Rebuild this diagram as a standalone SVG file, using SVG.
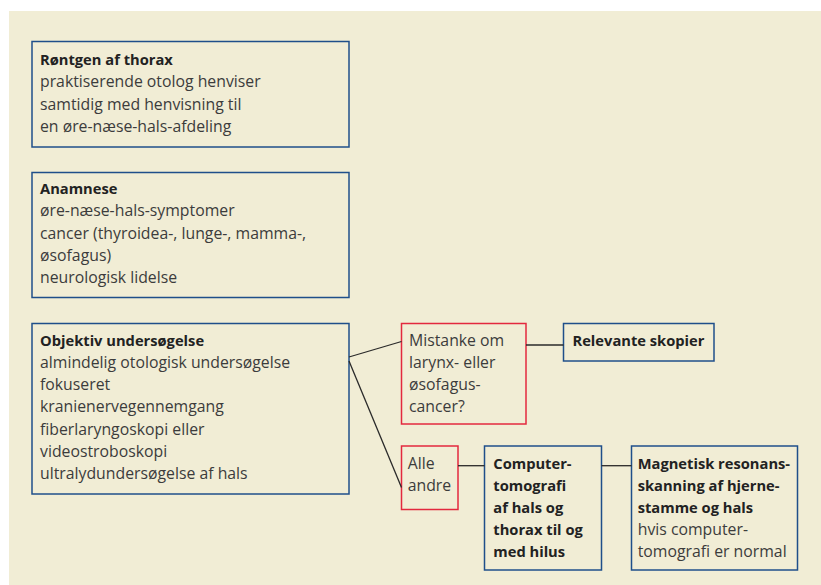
<svg xmlns="http://www.w3.org/2000/svg" width="821" height="585" viewBox="0 0 821 585">
<style>
.bg{fill:#f1edd5}
.nb{fill:none;stroke:#1f4f8a;stroke-width:1.5}
.nr{fill:none;stroke:#e3283e;stroke-width:1.5}
text{font-family:"Open Sans","DejaVu Sans",sans-serif;font-size:15.8px;fill:#3c3c3c}
.b{font-weight:bold;fill:#222;font-size:14.7px}
.c{stroke:#2a2a2a;stroke-width:1.3;fill:none}
</style>
<rect x="0" y="0" width="821" height="585" fill="#ffffff"/>
<rect class="bg" x="9" y="11" width="812" height="574"/>
<g id="n1">
<rect class="nb" x="32" y="41.5" width="317" height="105.5"/>
<text x="40" y="65"><tspan class="b">Røntgen af thorax</tspan><tspan x="40" dy="22.3">praktiserende otolog henviser</tspan><tspan x="40" dy="22.3">samtidig med henvisning til</tspan><tspan x="40" dy="22.3">en øre-næse-hals-afdeling</tspan></text>
</g>
<g id="n2">
<rect class="nb" x="32" y="172.5" width="317" height="125"/>
<text x="40" y="194"><tspan class="b">Anamnese</tspan><tspan x="40" dy="22.3">øre-næse-hals-symptomer</tspan><tspan x="40" dy="22.3">cancer (thyroidea-, lunge-, mamma-,</tspan><tspan x="40" dy="22.3">øsofagus)</tspan><tspan x="40" dy="22.3">neurologisk lidelse</tspan></text>
</g>
<g id="n3">
<rect class="nb" x="32" y="323.5" width="317" height="170.5"/>
<text x="40" y="345.7"><tspan class="b">Objektiv undersøgelse</tspan><tspan x="40" dy="22.2">almindelig otologisk undersøgelse</tspan><tspan x="40" dy="22.2">fokuseret</tspan><tspan x="40" dy="22.2">kranienervegennemgang</tspan><tspan x="40" dy="22.2">fiberlaryngoskopi eller</tspan><tspan x="40" dy="22.2">videostroboskopi</tspan><tspan x="40" dy="22.2">ultralydundersøgelse af hals</tspan></text>
</g>
<g id="n4">
<rect class="nr" x="401.5" y="323.5" width="124.5" height="100.5"/>
<text x="409" y="345.7"><tspan>Mistanke om</tspan><tspan x="409" dy="22.2">larynx- eller</tspan><tspan x="409" dy="22.2">øsofagus-</tspan><tspan x="409" dy="22.2">cancer?</tspan></text>
</g>
<g id="n5">
<rect class="nb" x="563.5" y="323.5" width="150.5" height="37.5"/>
<text class="b" x="572.5" y="345.7">Relevante skopier</text>
</g>
<g id="n6">
<rect class="nr" x="401.5" y="446" width="56.5" height="63.5"/>
<text x="407.7" y="469"><tspan>Alle</tspan><tspan x="407.7" dy="22">andre</tspan></text>
</g>
<g id="n7">
<rect class="nb" x="484.5" y="446" width="117" height="124"/>
<text class="b" x="493.3" y="469"><tspan>Computer-</tspan><tspan x="493.3" dy="22">tomografi</tspan><tspan x="493.3" dy="22">af hals og</tspan><tspan x="493.3" dy="22">thorax til og</tspan><tspan x="493.3" dy="22">med hilus</tspan></text>
</g>
<g id="n8">
<rect class="nb" x="631.5" y="446" width="166" height="124"/>
<text x="637.7" y="469"><tspan class="b">Magnetisk resonans-</tspan><tspan class="b" x="637.7" dy="22">skanning af hjerne-</tspan><tspan class="b" x="637.7" dy="22">stamme og hals</tspan><tspan x="637.7" dy="22">hvis computer-</tspan><tspan x="637.7" dy="22">tomografi er normal</tspan></text>
</g>
<g id="connectors">
<line class="c" x1="349" y1="357" x2="401.5" y2="341.5"/>
<line class="c" x1="349" y1="361" x2="401.5" y2="487.5"/>
<line class="c" x1="526" y1="345" x2="563.5" y2="345"/>
<line class="c" x1="458" y1="465.7" x2="484.5" y2="465.7"/>
<line class="c" x1="601.5" y1="465.7" x2="631.5" y2="465.7"/>
</g>
</svg>
